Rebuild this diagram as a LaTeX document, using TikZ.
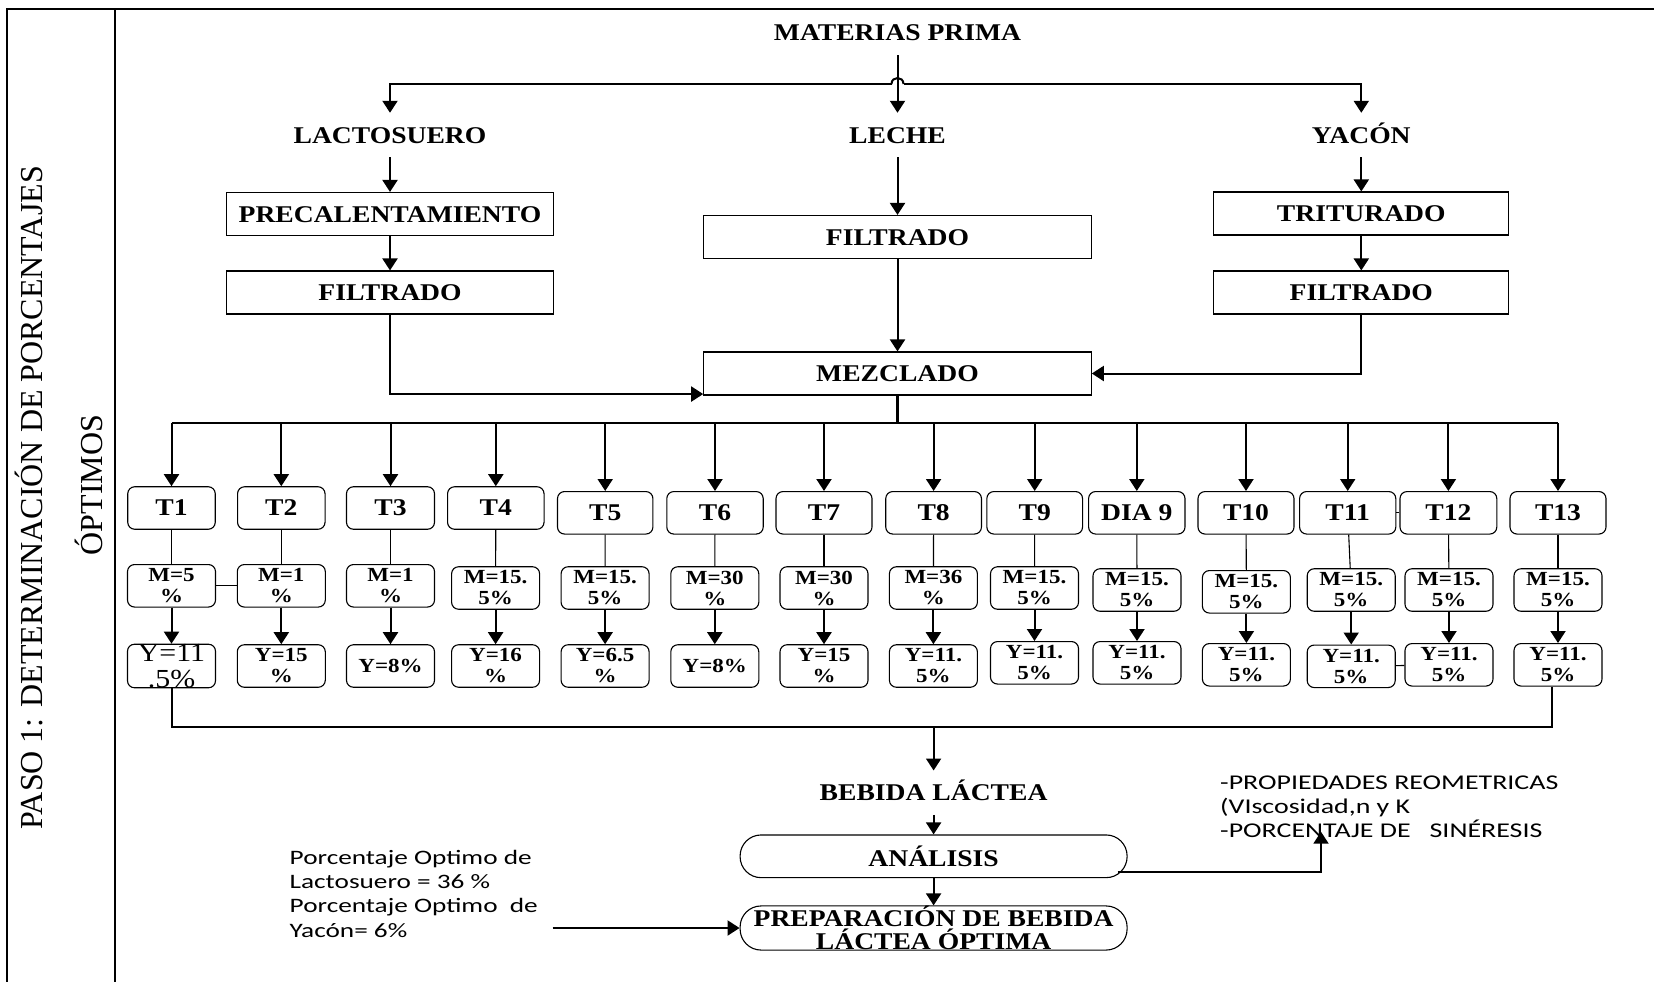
\documentclass[tikz,border=0pt]{standalone}
\usepackage{fontspec}
\setmainfont{Liberation Serif}
\newfontfamily\bsf[FakeStretch=1.15]{Liberation Serif}
\newfontfamily\calf[FakeStretch=1.33]{Carlito}
\usetikzlibrary{arrows.meta,calc}
\newcommand\mybf{\bsf\bfseries\fontsize{24}{26}\selectfont}
\newcommand\mysm{\bsf\bfseries\fontsize{20}{21}\selectfont}
\begin{document}
\begin{tikzpicture}[x=1pt,y=-1pt,
  lbl/.style={font=\mybf, inner sep=0pt, minimum height=44pt, text height=16pt, text depth=0pt},
  pbox/.style={draw, line width=1.1pt, font=\mybf, inner sep=0pt, minimum height=43pt, text height=16pt, text depth=0pt},
  tbox/.style={draw, rounded corners=7pt, line width=1.1pt, inner sep=0pt, minimum height=42.5pt, font=\mybf},
  mbox/.style={tbox, align=center, font=\mysm, minimum width=88pt},
  pill/.style={draw, rounded corners=21pt, line width=1.1pt, inner sep=0pt, minimum height=42.7pt, minimum width=387pt, font=\mybf},
  arr/.style={line width=2pt, -{Triangle[length=12pt,width=15pt]}},
  ln/.style={line width=1.1pt},
  bus/.style={line width=2.3pt}]
\useasboundingbox (0,0) rectangle (1654,982);
% frame
\draw[line width=2.5pt] (7,982) -- (7,9) -- (1654,9);
\draw[line width=2.5pt] (115,9) -- (115,982);
\node[rotate=90, font=\fontsize{32}{36}\selectfont, inner sep=0pt] (paso) at (29,498) {PASO 1: DETERMINACIÓN DE PORCENTAJES};
\node[rotate=90, font=\fontsize{32}{36}\selectfont, inner sep=0pt] (opti) at (89,485) {ÓPTIMOS};
% top
\node[lbl] (mp) at (897.5,33) {MATERIAS PRIMA};
\node[lbl] (lac) at (390,135) {LACTOSUERO};
\node[lbl] (lec) at (897.5,135) {LECHE};
\node[lbl] (yac) at (1361.3,135) {YACÓN};
\coordinate (hub) at (897.5,84);
\draw[arr] (mp) -- (lec);
\draw[arr] ($(hub)+(-6,0)$) -| (lac);
\draw[arr] ($(hub)+(6,0)$) -| (yac);
\draw[line width=2pt] ($(hub)+(-6,0)$) .. controls ($(hub)+(-6,-8)$) and ($(hub)+(6,-8)$) .. ($(hub)+(6,0)$);
\node[pbox, minimum width=327pt] (pre) at (390,214) {PRECALENTAMIENTO};
\node[pbox, minimum width=327pt] (filL) at (390,292.5) {FILTRADO};
\node[pbox, minimum width=387.5pt] (filC) at (897.5,237) {FILTRADO};
\node[pbox, minimum width=295pt] (tri) at (1361.3,213.5) {TRITURADO};
\node[pbox, minimum width=295pt] (filR) at (1361.3,292.5) {FILTRADO};
\node[pbox, minimum width=387.5pt] (mez) at (897.5,373.5) {MEZCLADO};
\draw[arr] (lac) -- (pre);
\draw[arr] (pre) -- (filL);
\draw[arr] (lec) -- (filC);
\draw[arr] (yac) -- (tri);
\draw[arr] (tri) -- (filR);
\draw[arr] (filC) -- (mez);
\draw[arr] (filL) |- ($(mez.south west)+(0,-1.5)$);
\draw[arr] (filR) |- (mez.east);
% T boxes
\node[tbox, minimum width=87.5pt] (t1) at (171.5,508) {T1};
\node[tbox, minimum width=87.5pt] (t2) at (281.3,508) {T2};
\node[tbox, minimum width=88pt] (t3) at (390.5,508) {T3};
\node[tbox, minimum width=96.5pt] (t4) at (495.8,508) {T4};
\node[tbox, minimum width=95.4pt] (t5) at (605.2,512.8) {T5};
\node[tbox, minimum width=96.4pt] (t6) at (715,512.8) {T6};
\node[tbox, minimum width=96pt] (t7) at (824,512.8) {T7};
\node[tbox, minimum width=95.7pt] (t8) at (933.6,512.8) {T8};
\node[tbox, minimum width=95.7pt] (t9) at (1034.7,512.8) {T9};
\node[tbox, minimum width=96.4pt] (d9) at (1136.8,512.8) {DIA 9};
\node[tbox, minimum width=96pt] (t10) at (1246,512.8) {T10};
\node[tbox, minimum width=96.2pt] (t11) at (1347.7,512.8) {T11};
\node[tbox, minimum width=96.8pt] (t12) at (1448.4,512.8) {T12};
\node[tbox, minimum width=96pt] (t13) at (1558,512.8) {T13};
% M boxes
\node[mbox] (m1) at (171.5,585.8) {M=5\\\%};
\node[mbox] (m2) at (281.3,585.8) {M=1\\\%};
\node[mbox] (m3) at (390.5,585.8) {M=1\\\%};
\node[mbox] (m4) at (495.6,588) {M=15.\\5\%};
\node[mbox] (m5) at (605.1,588) {M=15.\\5\%};
\node[mbox] (m6) at (714.8,588) {M=30\\\%};
\node[mbox] (m7) at (824,588) {M=30\\\%};
\node[mbox] (m8) at (933.4,588) {M=36\\\%};
\node[mbox] (m9) at (1034.5,588) {M=15.\\5\%};
\node[mbox] (md) at (1137,590) {M=15.\\5\%};
\node[mbox] (m10) at (1246.4,591.8) {M=15.\\5\%};
\node[mbox] (m11) at (1351.2,590) {M=15.\\5\%};
\node[mbox] (m12) at (1449,590) {M=15.\\5\%};
\node[mbox] (m13) at (1558,590) {M=15.\\5\%};
% Y boxes
\node[mbox, font=\bsf\fontsize{26}{26}\selectfont] (y1) at (171.5,666) {Y=11\\.5\%};
\node[mbox] (y2) at (281.3,666) {Y=15\\\%};
\node[mbox] (y3) at (390.5,666) {Y=8\%};
\node[mbox] (y4) at (495.6,666) {Y=16\\\%};
\node[mbox] (y5) at (605.1,666) {Y=6.5\\\%};
\node[mbox] (y6) at (714.8,666) {Y=8\%};
\node[mbox] (y7) at (824,666) {Y=15\\\%};
\node[mbox] (y8) at (933.4,666) {Y=11.\\5\%};
\node[mbox] (y9) at (1034.5,662.8) {Y=11.\\5\%};
\node[mbox] (yd) at (1137,662.8) {Y=11.\\5\%};
\node[mbox] (y10) at (1246.4,664.8) {Y=11.\\5\%};
\node[mbox] (y11) at (1351.2,666.3) {Y=11.\\5\%};
\node[mbox] (y12) at (1449,664.8) {Y=11.\\5\%};
\node[mbox] (y13) at (1558,664.8) {Y=11.\\5\%};
% bus from mezclado
\coordinate (bus) at (897.5,423.3);
\draw[bus] (mez) -- (bus);
\draw[bus] (t1 |- bus) -- (t13 |- bus);
\foreach \n in {t1,t2,t3,t4,t5,t6,t7,t8,t9,d9,t10,t11,t12,t13}
  \draw[arr] (\n |- bus) -- (\n);
\foreach \a/\b in {t1/m1,t2/m2,t3/m3,t4/m4,t5/m5,t6/m6,t7/m7,t8/m8,t9/m9,d9/md,t10/m10,t11/m11,t12/m12,t13/m13}
  \draw[ln] (\a) -- (\b);
\foreach \a/\b in {m1/y1,m2/y2,m3/y3,m4/y4,m5/y5,m6/y6,m7/y7,m8/y8,m9/y9,md/yd,m10/y10,m11/y11,m12/y12,m13/y13}
  \draw[arr] (\a) -- (\b);
\draw[ln] (m1) -- (m2);
\draw[ln] (t11) -- (t12);
\draw[ln] (y11) -- (y12);
% collector
\coordinate (bb) at (933.6,726.7);
\draw[line width=2pt] (y1) |- (bb) -| ($(y13.south)+(-6,0)$);
\node[lbl] (beb) at (933.6,792.7) {BEBIDA LÁCTEA};
\draw[arr] (bb) -- (beb);
\node[pill] (ana) at (933.6,856.3) {ANÁLISIS};
\node[pill, align=center, font=\bsf\bfseries\fontsize{24}{23.3}\selectfont] (prep) at (933.6,928) {PREPARACIÓN DE BEBIDA\\LÁCTEA ÓPTIMA};
\draw[arr] (beb) -- (ana);
\draw[arr] (ana) -- (prep);
\node[anchor=west, align=left, inner sep=0pt, font=\calf\fontsize{21}{23.7}\selectfont] (props) at (1220,806.7) {-PROPIEDADES REOMETRICAS\\(VIscosidad,n y K\\-PORCENTAJE DE \ \ SINÉRESIS};
\coordinate (propin) at (1321,831.7);
\draw[arr] ($(ana.east)+(-10,15.4)$) -| (propin);
\node[anchor=west, align=left, inner sep=0pt, font=\calf\fontsize{20.5}{24.3}\selectfont] (opt) at (289.5,893.6) {Porcentaje Optimo de\\Lactosuero = 36 \%\\Porcentaje Optimo \ de\\Yacón= 6\%};
\coordinate (optout) at (552.7,928);
\draw[arr] (optout) -- (prep.west);
\end{tikzpicture}
\end{document}
